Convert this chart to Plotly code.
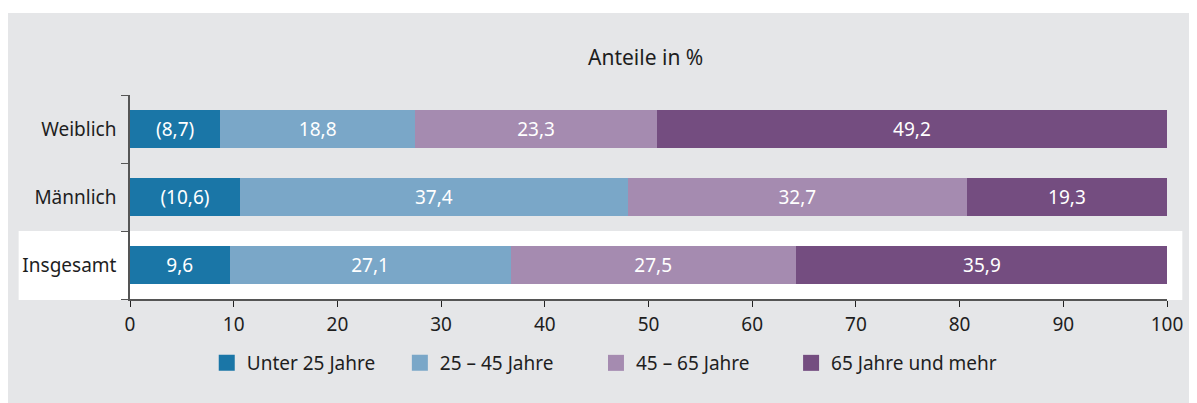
import plotly.graph_objects as go

categories = ["Insgesamt", "Männlich", "Weiblich"]
series_names = ["Unter 25 Jahre", "25 – 45 Jahre", "45 – 65 Jahre", "65 Jahre und mehr"]
under25 = [9.6, 10.6, 8.7]
age25_45 = [27.1, 37.4, 18.8]
age45_65 = [27.5, 32.7, 23.3]
age65plus = [35.9, 19.3, 49.2]
under25_labels = ["9,6", "(10,6)", "(8,7)"]
x_ticks = [0, 10, 20, 30, 40, 50, 60, 70, 80, 90, 100]

colors = ["#1a76a7", "#7aa7c8", "#a58bb0", "#744d80"]
values = [under25, age25_45, age45_65, age65plus]


def fmt(v):
    return f"{v:.1f}".replace(".", ",")


FONT = "Noto Sans"
FS = 19
TXT = "#1e1e1e"

# page body adds an 8px offset; reference pixel coords are shifted by -8
OFF = 8
W, H = 1197 - OFF, 403 - OFF
L = 130.3 - OFF
R = W - (1166.7 - OFF)
T = 95 - OFF
B = H - (299 - OFF)
pw = W - L - R
ph = H - T - B


def px_x(p):
    return (p - OFF - L) / pw


def px_y(p):
    return (H - B - (p - OFF)) / ph


legend_ids = ["legend", "legend2", "legend3", "legend4"]
legend_left = [207, 400, 596, 791]

fig = go.Figure()
for i, (name, vals) in enumerate(zip(series_names, values)):
    texts = under25_labels if i == 0 else [fmt(v) for v in vals]
    fig.add_trace(go.Bar(
        y=categories, x=vals, name=name, orientation="h",
        marker=dict(color=colors[i], line=dict(width=0)),
        text=texts, texttemplate="%{text}", textposition="inside",
        insidetextanchor="middle", textangle=0,
        textfont=dict(color="white", size=FS, family=FONT),
        width=0.56, hoverinfo="skip", showlegend=False,
    ))
# legend entries (square swatches), one legend box per entry
for i, name in enumerate(series_names):
    fig.add_trace(go.Scatter(
        x=[None], y=[None], mode="markers", name=name,
        marker=dict(symbol="square", size=16, color=colors[i]),
        hoverinfo="skip", showlegend=True, legend=legend_ids[i],
    ))

shapes = [
    dict(type="rect", xref="paper", yref="paper", layer="below",
         x0=px_x(OFF), x1=px_x(1197 + OFF), y0=px_y(403 + OFF), y1=px_y(13),
         fillcolor="#e5e6e8", line=dict(width=0)),
    dict(type="rect", xref="paper", yref="paper", layer="below",
         x0=px_x(19), x1=px_x(1182), y0=px_y(300), y1=px_y(231),
         fillcolor="white", line=dict(width=0)),
]

layout_legends = {}
for lid, lx in zip(legend_ids, legend_left):
    layout_legends[lid] = dict(
        orientation="h", x=px_x(lx), xanchor="left", y=px_y(363), yanchor="middle",
        font=dict(size=FS, family=FONT, color=TXT),
        bgcolor="rgba(0,0,0,0)", borderwidth=0,
        itemclick=False, itemdoubleclick=False,
    )

fig.update_layout(
    width=W, height=H,
    margin=dict(l=L, r=R, t=T, b=B, pad=0),
    barmode="stack",
    paper_bgcolor="white", plot_bgcolor="rgba(0,0,0,0)",
    font=dict(family=FONT, size=FS, color=TXT),
    shapes=shapes,
    showlegend=True,
    annotations=[dict(text="Anteile in %", xref="paper", yref="paper",
                      x=px_x(645.5), y=px_y(57), xanchor="center", yanchor="middle",
                      showarrow=False, font=dict(size=21, family=FONT, color=TXT))],
    **layout_legends,
)
fig.update_xaxes(range=[0, 100], tickvals=x_ticks, ticktext=[str(t) for t in x_ticks],
                 showgrid=False, zeroline=False, showline=True, linecolor="#555555",
                 linewidth=1.5, ticks="outside", ticklen=6, tickcolor="#222222",
                 ticklabelstandoff=1,
                 tickfont=dict(size=FS, family=FONT, color=TXT), fixedrange=True)
fig.update_yaxes(categoryorder="array", categoryarray=categories, range=[-0.5, 2.5],
                 showgrid=False, zeroline=False, showline=True, linecolor="#555555",
                 linewidth=1.5, ticks="outside", ticklen=7, tickcolor="#555555",
                 tickson="boundaries", ticklabelstandoff=8,
                 tickfont=dict(size=FS, family=FONT, color=TXT), fixedrange=True)

fig.write_html("out.html")
